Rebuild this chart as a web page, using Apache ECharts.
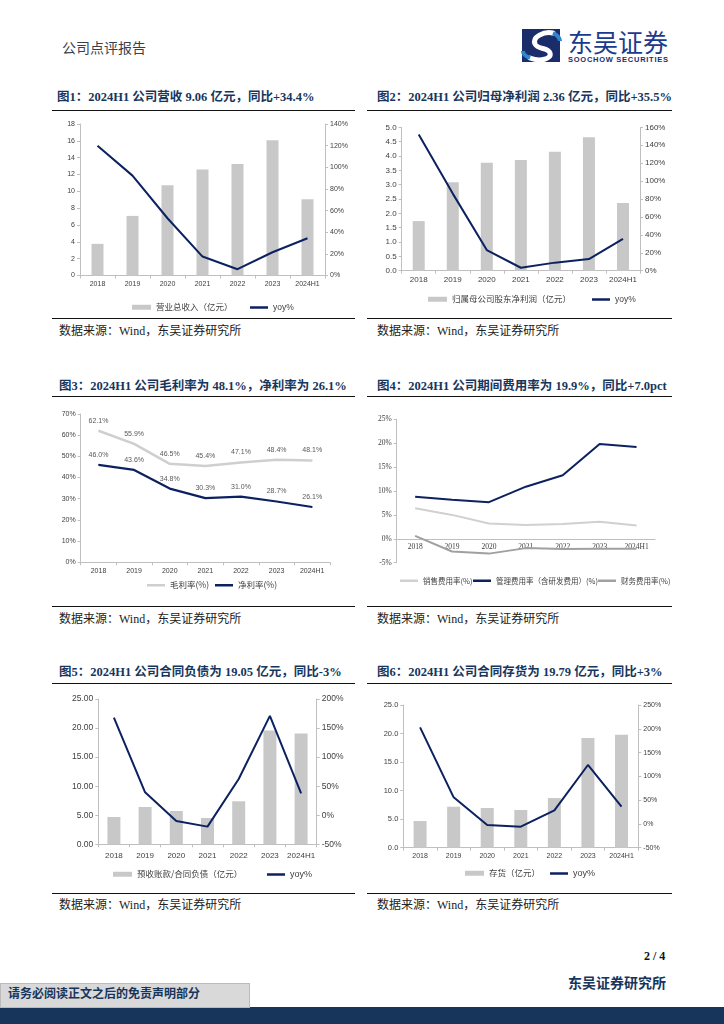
<!DOCTYPE html>
<html><head><meta charset="utf-8">
<script src="https://cdn.jsdelivr.net/npm/echarts@6/dist/echarts.min.js"></script>
<style>
body{margin:0;width:724px;height:1024px;position:relative;background:#fff;overflow:hidden;font-family:"Liberation Serif","Noto Sans CJK SC",serif;}
.t{position:absolute;white-space:nowrap;line-height:16px;}
.title{font-weight:bold;font-size:12.5px;color:#17365D;}
.src{font-size:12px;color:#222;}
.hr{position:absolute;height:0;border-top:1.6px solid #111;}
.ch{position:absolute;}
</style></head><body>

<div class="t" style="left:62px;top:39px;font-size:14px;color:#3a3f4a;font-family:'Noto Sans CJK SC';">公司点评报告</div>
<svg style="position:absolute;left:520px;top:27px;" width="160" height="38" viewBox="0 0 160 38">
  <rect x="2" y="2" width="38" height="33" fill="#1B2C6B"/>
  <path d="M33,6 C24,4 12,10 15,17 C18,23 28,20 30,26 C32,32 20,35 10,31" fill="none" stroke="#ffffff" stroke-width="5" stroke-linecap="round"/>
  <path d="M33,6 C38,8 40,12 40,14" fill="none" stroke="#2E86CF" stroke-width="4"/>
  <path d="M10,31 C5,29 3,26 3,24" fill="none" stroke="#2E86CF" stroke-width="4"/>
  <text x="48" y="25" font-size="25" fill="#1B3A8C" font-family="Noto Sans CJK SC" textLength="100">东吴证券</text>
  <text x="48" y="35" font-size="7.5" font-weight="bold" fill="#1B2C6B" font-family="Liberation Sans" textLength="100">SOOCHOW SECURITIES</text>
</svg>

<div class="t title" style="left:57px;top:88.7px;">图1：2024H1 公司营收 9.06 亿元，同比+34.4%</div>
<div class="t title" style="left:377px;top:88.7px;">图2：2024H1 公司归母净利润 2.36 亿元，同比+35.5%</div>
<div class="t title" style="left:59px;top:377.7px;">图3：2024H1 公司毛利率为 48.1%，净利率为 26.1%</div>
<div class="t title" style="left:377px;top:377.7px;">图4：2024H1 公司期间费用率为 19.9%，同比+7.0pct</div>
<div class="t title" style="left:59px;top:663.7px;">图5：2024H1 公司合同负债为 19.05 亿元，同比-3%</div>
<div class="t title" style="left:377px;top:663.7px;">图6：2024H1 公司合同存货为 19.79 亿元，同比+3%</div>

<div class="hr" style="left:52px;width:303px;top:109.5px;"></div>
<div class="hr" style="left:367px;width:305px;top:109.5px;"></div>
<div class="hr" style="left:52px;width:303px;top:317.5px;"></div>
<div class="hr" style="left:367px;width:305px;top:317.5px;"></div>
<div class="hr" style="left:52px;width:303px;top:395.5px;"></div>
<div class="hr" style="left:367px;width:305px;top:395.5px;"></div>
<div class="hr" style="left:52px;width:303px;top:606px;"></div>
<div class="hr" style="left:367px;width:305px;top:606px;"></div>
<div class="hr" style="left:52px;width:303px;top:682.5px;"></div>
<div class="hr" style="left:367px;width:305px;top:682.5px;"></div>
<div class="hr" style="left:52px;width:303px;top:892.5px;"></div>
<div class="hr" style="left:367px;width:305px;top:892.5px;"></div>

<div class="t src" style="left:59px;top:323px;">数据来源：Wind，东吴证券研究所</div>
<div class="t src" style="left:377px;top:323px;">数据来源：Wind，东吴证券研究所</div>
<div class="t src" style="left:59px;top:611px;">数据来源：Wind，东吴证券研究所</div>
<div class="t src" style="left:377px;top:611px;">数据来源：Wind，东吴证券研究所</div>
<div class="t src" style="left:59px;top:897px;">数据来源：Wind，东吴证券研究所</div>
<div class="t src" style="left:377px;top:897px;">数据来源：Wind，东吴证券研究所</div>

<div id="c1" class="ch" style="left:52px;top:111px;width:303px;height:206px;"></div>
<div id="c2" class="ch" style="left:367px;top:111px;width:305px;height:206px;"></div>
<div id="c3" class="ch" style="left:52px;top:397px;width:303px;height:209px;"></div>
<div id="c4" class="ch" style="left:367px;top:397px;width:305px;height:209px;"></div>
<div id="c5" class="ch" style="left:52px;top:684px;width:303px;height:208px;"></div>
<div id="c6" class="ch" style="left:367px;top:684px;width:305px;height:208px;"></div>

<div class="t" style="left:644px;top:948px;font-size:12px;font-weight:bold;color:#111;">2 / 4</div>
<div class="t" style="left:568px;top:976px;font-size:14px;font-weight:bold;color:#17355B;">东吴证券研究所</div>
<div style="position:absolute;left:0;top:1007px;width:724px;height:17px;background:#17355B;"></div>
<div style="position:absolute;left:0;top:983px;width:250px;height:25px;background:#D9D9D9;border:1px solid #bbb;box-sizing:border-box;"></div>
<div class="t" style="left:8px;top:986px;font-size:12px;font-weight:bold;color:#17355B;">请务必阅读正文之后的免责声明部分</div>

<script>
// ---------------- data ----------------
const years = ['2018', '2019', '2020', '2021', '2022', '2023', '2024H1'];
const revenue = [3.76, 7.08, 10.72, 12.58, 13.25, 16.06, 9.06];
const revenueYoy = [120, 92.3, 52.9, 17.5, 5.8, 21.5, 34.4];
const netProfit = [1.73, 3.08, 3.76, 3.86, 4.15, 4.65, 2.36];
const netProfitYoy = [152, 86, 23, 3.3, 9, 13, 35.5];
const grossMargin = [62.1, 55.9, 46.5, 45.4, 47.1, 48.4, 48.1];
const netMargin = [46.0, 43.6, 34.8, 30.3, 31.0, 28.7, 26.1];
const sellingRate = [6.4, 5.0, 3.2, 2.9, 3.1, 3.55, 2.8];
const adminRate = [8.8, 8.15, 7.66, 10.9, 13.3, 19.85, 19.2];
const financeRate = [0.6, -2.65, -3.1, -1.95, -2.15, -2.1, -2.1];
const contractLiab = [4.70, 6.42, 5.73, 4.53, 7.40, 19.6, 19.05];
const contractLiabYoy = [168, 39.4, -9.9, -19.6, 62.4, 171, 37.7];
const inventory = [4.67, 7.18, 6.95, 6.6, 8.7, 19.2, 19.79];
const inventoryYoy = [203, 55.9, -2.3, -5.8, 28.5, 123.9, 36.2];

const AX = '#BFBFBF', LBL = '#404040', NAVY = '#0C2160', BAR = '#C8C8C8';
const SANS = 'Liberation Sans', CJK = 'Noto Sans CJK SC';

function catAxis(fs, margin, fam, tick) {
  return {
    type: 'category', data: years,
    axisLine: {show: true, lineStyle: {color: AX}},
    axisTick: {show: tick !== false, length: 3, lineStyle: {color: AX}},
    axisLabel: {fontSize: fs, color: LBL, margin: margin, fontFamily: fam || SANS, interval: 0, hideOverlap: false},
    splitLine: {show: false}
  };
}
function valAxis(min, max, interval, fmt, fs, pos, fam) {
  return {
    type: 'value', min: min, max: max, interval: interval, position: pos || 'left',
    axisLine: {show: true, lineStyle: {color: AX}},
    axisTick: {show: true, length: 3, lineStyle: {color: AX}},
    axisLabel: {fontSize: fs, color: LBL, margin: 5, formatter: fmt, fontFamily: fam || SANS},
    splitLine: {show: false}
  };
}
function legBar(name, left, top, fs) {
  return {data: [name], left: left, top: top, icon: 'rect', itemWidth: 19, itemHeight: 5,
    itemGap: 0, textStyle: {fontSize: fs, color: LBL, fontFamily: CJK}, selectedMode: false};
}
function legLine(name, left, top, fs, fam) {
  return {data: [name], left: left, top: top, icon: 'rect', itemWidth: 18, itemHeight: 2.5,
    itemGap: 0, textStyle: {fontSize: fs, color: LBL, fontFamily: fam || CJK}, selectedMode: false};
}
const fx = d => (v => v.toFixed(d));
const pct = v => v + '%';

function barLineChart(id, grid, xfs, xmargin, yL, yR, barName, bars, lineData, legs, barW) {
  const c = echarts.init(document.getElementById(id));
  c.setOption({
    animation: false,
    textStyle: {fontFamily: SANS},
    grid: grid,
    xAxis: catAxis(xfs, xmargin),
    yAxis: [yL, yR],
    legend: legs,
    series: [
      {name: barName, type: 'bar', data: bars, barWidth: barW, itemStyle: {color: BAR}},
      {name: 'yoy%', type: 'line', yAxisIndex: 1, data: lineData, symbol: 'none',
        lineStyle: {color: NAVY, width: 2}, itemStyle: {color: NAVY}}
    ]
  });
}

// Chart 1
barLineChart('c1', {left: 28, right: 30, top: 13, height: 151.5}, 7, 5,
  valAxis(0, 18, 2, null, 7), valAxis(0, 140, 20, pct, 7, 'right'),
  '营业总收入（亿元）', revenue, revenueYoy,
  [legBar('营业总收入（亿元）', 75, 187, 8.5), legLine('yoy%', 193, 187, 8.5, SANS)], 12);

// Chart 2
barLineChart('c2', {left: 34.7, right: 32, top: 16.3, height: 143.4}, 8, 5.5,
  valAxis(0, 5, 0.5, fx(1), 8), valAxis(0, 160, 20, pct, 8, 'right'),
  '归属母公司股东净利润（亿元）', netProfit, netProfitYoy,
  [legBar('归属母公司股东净利润（亿元）', 56, 179, 8.5), legLine('yoy%', 220, 179, 8.5, SANS)], 12);

// Chart 5
barLineChart('c5', {left: 46.3, right: 38.3, top: 15, height: 145.3}, 8, 7,
  valAxis(0, 25, 5, fx(2), 8.5), valAxis(-50, 200, 50, pct, 8.5, 'right'),
  '预收账款/合同负债（亿元）', contractLiab, contractLiabYoy,
  [legBar('预收账款/合同负债（亿元）', 56, 181, 8.5), legLine('yoy%', 210, 181, 9, SANS)], 13);

// Chart 6
barLineChart('c6', {left: 36.3, right: 33.7, top: 21, height: 142.7}, 7, 5,
  valAxis(0, 25, 5, fx(1), 7.5), valAxis(-50, 250, 50, pct, 7, 'right'),
  '存货（亿元）', inventory, inventoryYoy,
  [legBar('存货（亿元）', 93, 180, 8.5), legLine('yoy%', 178, 180, 9, SANS)], 13);

// Chart 3
(function () {
  const c = echarts.init(document.getElementById('c3'));
  const lbl = {show: true, position: 'top', distance: 6, fontSize: 7, color: '#595959',
    fontFamily: SANS, formatter: p => p.value.toFixed(1) + '%'};
  c.setOption({
    animation: false,
    grid: {left: 28.7, right: 25, top: 17, height: 148.3},
    xAxis: catAxis(7, 5),
    yAxis: valAxis(0, 70, 10, pct, 7),
    legend: [legLine('毛利率(%)', 90, 179, 8.5), legLine('净利率(%)', 158, 179, 8.5)],
    series: [
      {name: '毛利率(%)', type: 'line', data: grossMargin, symbol: 'circle', symbolSize: 1, showSymbol: true, label: lbl,
        lineStyle: {color: '#CFCFCF', width: 2.5}, itemStyle: {color: '#CFCFCF'}},
      {name: '净利率(%)', type: 'line', data: netMargin, symbol: 'circle', symbolSize: 1, showSymbol: true, label: lbl,
        lineStyle: {color: NAVY, width: 2.2}, itemStyle: {color: NAVY}}
    ]
  });
})();

// Chart 4
(function () {
  const c = echarts.init(document.getElementById('c4'));
  const SER = 'Liberation Serif';
  const xa = catAxis(7.5, 4, SER, false);
  xa.axisLine.onZero = false;
  xa.offset = -143.4 * 5 / 30;
  c.setOption({
    animation: false,
    grid: {left: 29.7, right: 17, top: 22.3, height: 143.4},
    xAxis: xa,
    yAxis: valAxis(-5, 25, 5, pct, 7.5, 'left', SER),
    legend: [legLine('销售费用率(%)', 28, 175, 7.5), legLine('管理费用率（含研发费用）(%)', 101, 175, 7.5),
      legLine('财务费用率(%)', 226, 175, 7.5)],
    series: [
      {name: '销售费用率(%)', type: 'line', data: sellingRate, symbol: 'none',
        lineStyle: {color: '#D0D0D0', width: 2}, itemStyle: {color: '#D0D0D0'}},
      {name: '管理费用率（含研发费用）(%)', type: 'line', data: adminRate, symbol: 'none',
        lineStyle: {color: NAVY, width: 2}, itemStyle: {color: NAVY}},
      {name: '财务费用率(%)', type: 'line', data: financeRate, symbol: 'none',
        lineStyle: {color: '#A0A0A0', width: 2}, itemStyle: {color: '#A0A0A0'}}
    ]
  });
})();
</script>
</body></html>
